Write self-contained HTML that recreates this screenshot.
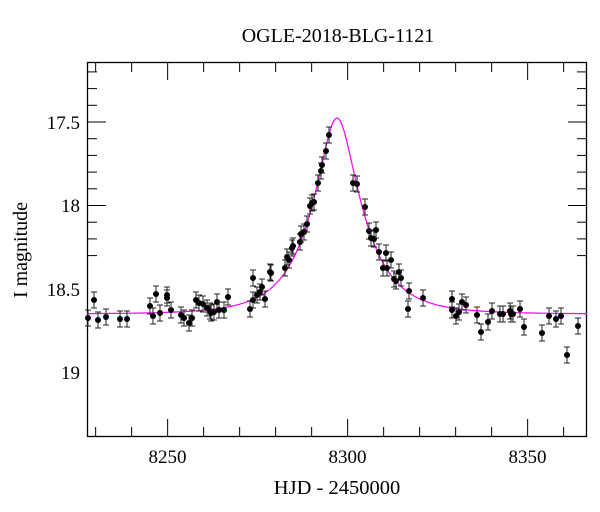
<!DOCTYPE html><html><head><style>body{margin:0;background:#fff}svg{display:block}text{font-family:"Liberation Serif",serif;fill:#000}</style></head><body>
<svg id="s" width="600" height="512" xmlns="http://www.w3.org/2000/svg">
<text x="338" y="42" font-size="20" text-anchor="middle">OGLE-2018-BLG-1121</text>
<text x="337" y="494" font-size="20.5" text-anchor="middle">HJD - 2450000</text>
<text transform="translate(27,250) rotate(-90)" font-size="20" text-anchor="middle">I magnitude</text>
<g font-size="19" text-anchor="end">
<text x="80" y="129">17.5</text><text x="80" y="212">18</text><text x="80" y="296">18.5</text><text x="80" y="379">19</text></g>
<g font-size="19" text-anchor="middle">
<text x="167.5" y="463">8250</text><text x="347.5" y="463">8300</text><text x="527.5" y="463">8350</text></g>
<rect x="87.5" y="62.5" width="499" height="374" fill="none" stroke="#000" stroke-width="1.3"/>
<g id="t" stroke="#000" stroke-width="1"></g>
<path id="c" fill="none" stroke="#f0f" stroke-width="1.2"/>
<g id="p"></g>
</svg>
<script>
var t=document.getElementById('t'),h='';
for(var d=8230;d<=8360;d+=10){var x=87+(d-8227.6)*3.6,L=d%50==0?18:10;h+='<line x1="'+x+'" y1="437" x2="'+x+'" y2="'+(437-L)+'"/><line x1="'+x+'" y1="62" x2="'+x+'" y2="'+(62+L)+'"/>';}
for(var i=2;i<=13;i++){var m=17+i/10,y=122+(m-17.5)*167,L=(i%5==0)?19:10;h+='<line x1="87" y1="'+y+'" x2="'+(87+L)+'" y2="'+y+'"/><line x1="587" y1="'+y+'" x2="'+(587-L)+'" y2="'+y+'"/>';}
t.innerHTML=h;
var pts='';
for(var x=87;x<=587;x+=1){var tau=(x-337)/48,u=Math.sqrt(0.355*0.355+tau*tau),A=(u*u+2)/(u*Math.sqrt(u*u+4));var m=18.65-2.5*Math.log10(A);pts+=(x==87?'M':'L')+x+','+(122+(m-17.5)*167).toFixed(1);}
document.getElementById('c').setAttribute('d',pts);
var P=[[88,318],[94,300],[98,320],[106,317],[120,319],[127,319],[150,306],[153,316],[156,294],[160,313],[167,298],[167,295],[171,310],[181,315],[184,318],[189,323],[192,318],[196,300],[199,303],[203,304],[207,308],[210,311],[211,313],[214,312],[217,302],[219,310],[224,310],[228,297],[250,309],[253,278],[253,300],[257,295],[260,292],[262,287],[265,299],[270,272],[271,273],[285,268],[287,257],[289,260],[292,248],[293,246],[300,242],[301,234],[304,232],[307,224],[310,206],[312,203],[314,202],[318,183],[321,171],[322,165],[326,151],[329,135],[353,183],[357,184],[365,207],[369,231],[371,238],[374,239],[376,230],[379,252],[383,268],[386,253],[387,268],[391,260],[394,279],[396,281],[399,272],[401,278],[409,291],[408,309],[423,298],[452,299],[452,310],[456,316],[459,312],[462,302],[466,305],[477,315],[481,332],[488,322],[492,311],[500,314],[503,314],[510,311],[511,314],[513,314],[520,309],[524,327],[542,333],[549,316],[556,319],[561,316],[567,355],[578,326]];
var g='';P.forEach(function(p){var e=8;g+='<line x1="'+p[0]+'" y1="'+(p[1]-e)+'" x2="'+p[0]+'" y2="'+(p[1]+e)+'" stroke="#222"/><line x1="'+(p[0]-3)+'" y1="'+(p[1]-e)+'" x2="'+(p[0]+3)+'" y2="'+(p[1]-e)+'" stroke="#222"/><line x1="'+(p[0]-3)+'" y1="'+(p[1]+e)+'" x2="'+(p[0]+3)+'" y2="'+(p[1]+e)+'" stroke="#222"/><circle cx="'+p[0]+'" cy="'+p[1]+'" r="3"/>';});
document.getElementById('p').innerHTML=g;
</script></body></html>
